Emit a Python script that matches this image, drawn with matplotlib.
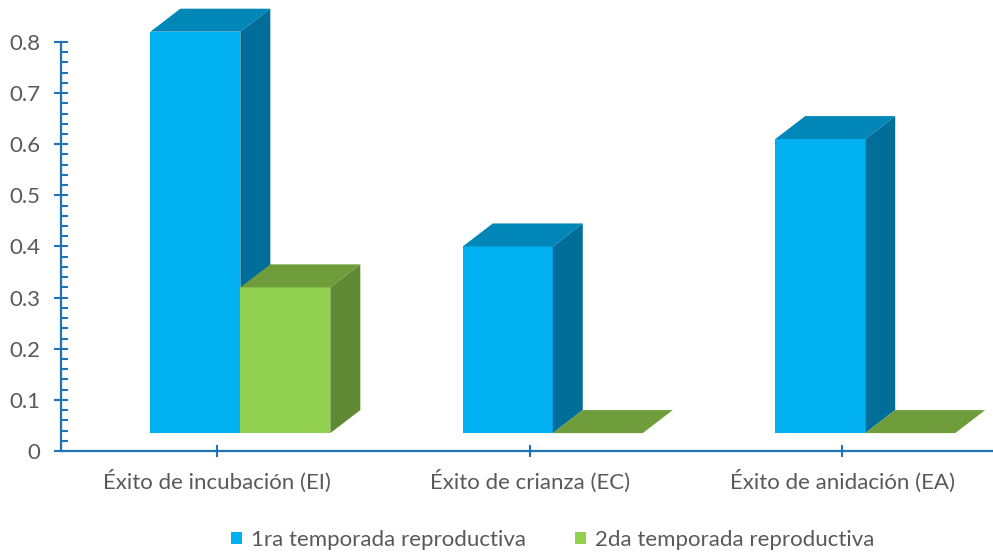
import matplotlib
matplotlib.use("Agg")
import matplotlib.pyplot as plt
from matplotlib.patches import Patch, Polygon
from matplotlib.ticker import FixedLocator
import numpy as np

# Chart data.
categoryList = ["Éxito de incubación (EI)", "Éxito de crianza (EC)", "Éxito de anidación (EA)"]
seriesNames = ["1ra temporada reproductiva", "2da temporada reproductiva"]
firstSeason = [0.82, 0.40, 0.61]
secondSeason = [0.32, 0.0, 0.0]
yTickValues = [0, 0.1, 0.2, 0.3, 0.4, 0.5, 0.6, 0.7, 0.8]

# Styling for the fake 3D columns (front, top, side colours).
blueFaces = ("#00B0F0", "#0087B8", "#006E98")
greenFaces = ("#92D050", "#6F9D3C", "#5F8A31")
textColor = "#595959"
axisColor = "#2272BA"
barWidth = 0.288
firstOffset = -0.07
depthX = 0.096
depthY = 0.045
floorLevel = 0.035
fontSize = 16

plt.rcParams["font.family"] = ["Lato", "DejaVu Sans"]


# Draws one column as front face (ax.bar) plus top and side parallelograms.
def DrawColumn(ax, xCenter, value, faceColors):
    frontColor, topColor, sideColor = faceColors
    barHeight = max(value - floorLevel, 0.0)
    topLevel = floorLevel + barHeight
    leftEdge = xCenter - barWidth / 2
    rightEdge = xCenter + barWidth / 2
    if barHeight > 0:
        ax.bar(xCenter, barHeight, width=barWidth, bottom=floorLevel, color=frontColor, linewidth=0, zorder=3)
        sidePoints = [(rightEdge, floorLevel), (rightEdge, topLevel),
                      (rightEdge + depthX, topLevel + depthY), (rightEdge + depthX, floorLevel + depthY)]
        ax.add_patch(Polygon(sidePoints, closed=True, facecolor=sideColor, edgecolor="none", zorder=3))
    topPoints = [(leftEdge, topLevel), (leftEdge + depthX, topLevel + depthY),
                 (rightEdge + depthX, topLevel + depthY), (rightEdge, topLevel)]
    ax.add_patch(Polygon(topPoints, closed=True, facecolor=topColor, edgecolor="none", zorder=3))


fig = plt.figure(figsize=(9.93, 5.55), dpi=100)
ax = fig.add_axes([61 / 993, 104 / 555, 932 / 993, 451 / 555])

xPositions = np.arange(len(categoryList))
for xIndex in xPositions:
    DrawColumn(ax, xIndex + firstOffset, firstSeason[xIndex], blueFaces)
    DrawColumn(ax, xIndex + firstOffset + barWidth, secondSeason[xIndex], greenFaces)

ax.set_xlim(-0.5, 2.483)
ax.set_ylim(0, 0.882)

# Axis styling similar to the spreadsheet chart.
for spineName in ["top", "right"]:
    ax.spines[spineName].set_visible(False)
ax.spines["left"].set_bounds(0, 0.8)
ax.spines["left"].set_color(axisColor)
ax.spines["bottom"].set_color(axisColor)
ax.spines["left"].set_linewidth(1.6)
ax.spines["bottom"].set_linewidth(1.6)

ax.set_yticks(yTickValues)
ax.set_yticklabels([f"{v:g}" for v in yTickValues])
ax.yaxis.set_minor_locator(FixedLocator(np.linspace(0, 0.8, 41)))
ax.tick_params(axis="y", which="major", direction="inout", length=9.5, width=1.5,
               color=axisColor, labelcolor=textColor, labelsize=fontSize, pad=10)
ax.tick_params(axis="y", which="minor", direction="in", length=5, width=1.5, color=axisColor)

ax.set_xticks(xPositions)
ax.set_xticklabels(categoryList)
ax.tick_params(axis="x", direction="inout", length=8.5, width=1.5,
               color=axisColor, labelcolor=textColor, labelsize=fontSize, pad=9)

legendHandles = [Patch(facecolor=blueFaces[0]), Patch(facecolor=greenFaces[0])]
fig.legend(legendHandles, seriesNames, loc="center", bbox_to_anchor=(553 / 993, 1 - 540 / 555),
           ncol=2, frameon=False, handlelength=0.5, handleheight=0.5, handletextpad=0.4,
           columnspacing=2.2, labelcolor=textColor, fontsize=fontSize)

fig.savefig("out.png", dpi=100)
